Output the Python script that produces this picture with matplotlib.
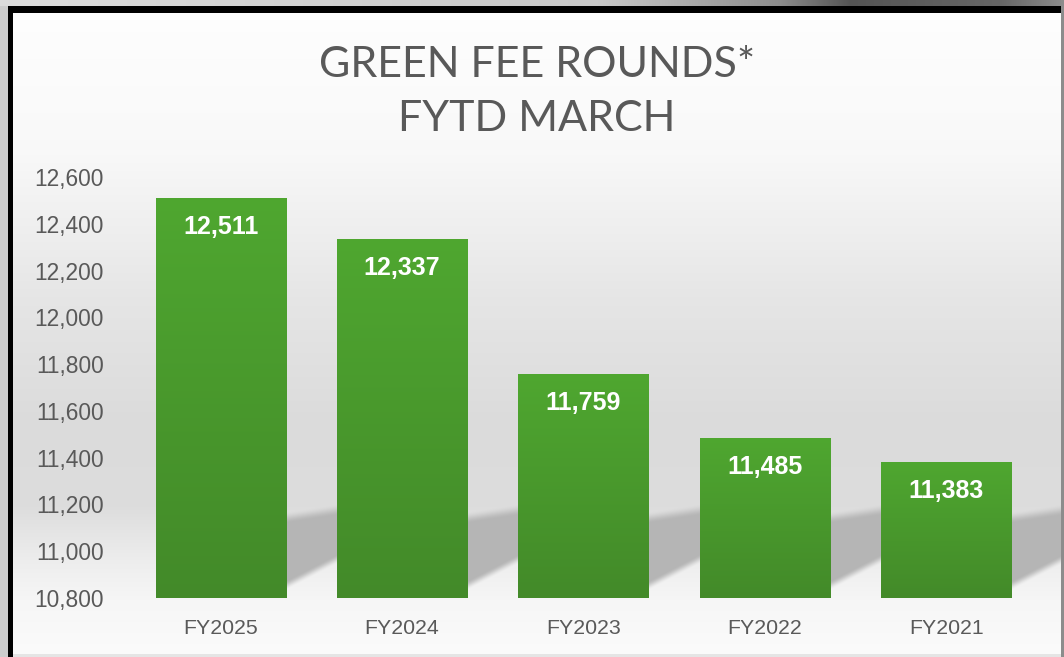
import numpy as np
import matplotlib
matplotlib.use("Agg")
import matplotlib.pyplot as plt
from matplotlib.colors import LinearSegmentedColormap

# ---- data ----
categories = ["FY2025", "FY2024", "FY2023", "FY2022", "FY2021"]
rounds = [12511, 12337, 11759, 11485, 11383]
yticks = [10800, 11000, 11200, 11400, 11600, 11800, 12000, 12200, 12400, 12600]
title_lines = ["GREEN FEE ROUNDS*", "FYTD MARCH"]

W, H = 1064, 657
fig = plt.figure(figsize=(W / 100, H / 100), dpi=100)

ax = fig.add_axes([130 / W, 1 - 598 / H, 907 / W, 421 / H])
ax.set_xlim(-0.5, len(categories) - 0.5)
ax.set_ylim(10800, 12600)
ax.patch.set_alpha(0)
for s in ax.spines.values():
    s.set_visible(False)

x = np.arange(len(categories))
bars = ax.bar(x, [v - 10800 for v in rounds], bottom=10800, width=0.717,
              color="#49992c", zorder=3)

cmap = LinearSegmentedColormap.from_list("g", ["#438a29", "#4fa730"])
grad = np.linspace(0, 1, 256).reshape(-1, 1)
for b in bars:
    bx, by, bw, bh = b.get_x(), b.get_y(), b.get_width(), b.get_height()
    im = ax.imshow(grad, extent=[bx, bx + bw, by, by + bh], origin="lower",
                   cmap=cmap, aspect="auto", zorder=4)
    im.set_clip_path(b)
ax.set_xlim(-0.5, len(categories) - 0.5)
ax.set_ylim(10800, 12600)

for xi, v in zip(x, rounds):
    ax.annotate(f"{v:,}", (xi, v), xytext=(0, -21), textcoords="offset points",
                ha="center", va="center", color="white", fontsize=18,
                fontweight="bold", family="Liberation Sans", zorder=6)

ax.set_yticks(yticks)
ax.set_yticklabels([f"{t:,}" for t in yticks], family="Liberation Sans",
                   fontsize=16.4, color="#595959")
ax.set_xticks(x)
ax.set_xticklabels(categories, family="Liberation Sans", fontsize=15.3,
                   color="#595959")
ax.tick_params(axis="y", length=0, pad=19)
ax.tick_params(axis="x", length=0, pad=15)

fig.text(537 / W, 1 - 92 / H, "\n".join(title_lines), ha="center", va="center",
         fontsize=31, color="#595959", linespacing=1.5,
         family=["Lato", "DejaVu Sans"])

# ---- background image (panel gradient, shadows, frame) ----
fig.canvas.draw()
yy = np.arange(H, dtype=float)
xx = np.arange(W, dtype=float)
prof = np.interp(yy, [12, 150, 300, 420, 505, 560, 600, 657],
                 [0.995, 0.975, 0.90, 0.86, 0.865, 0.93, 0.965, 0.985])
bg = np.repeat(prof[:, None], W, axis=1)

# soft cast shadows to the right of each bar
base_px = H - ax.transData.transform((0, 10800))[1]
X, Y = np.meshgrid(xx, yy)
def sstep(t):
    t = np.clip(t, 0, 1)
    return t * t * (3 - 2 * t)
shade = np.zeros_like(bg)
for b in bars:
    xr = ax.transData.transform((b.get_x() + b.get_width(), 0))[0]
    gap = 52.0
    u = (X - xr) / gap
    inside_x = (u >= -0.05) & (u <= 1.0)
    top = base_px - 87 + u * (-8)
    bot = base_px - 8 - u * 27
    m = sstep((Y - top) / 12.0) * sstep((bot - Y) / 10.0)
    m *= inside_x
    shade = np.maximum(shade, m)
bg = bg * (1 - shade) + 0.71 * shade

img = np.dstack([bg, bg, bg])
# outer frame
img[:, :8] = 0.80
img[:6, :] = np.interp(xx, [0, 600, 780, 850, 1000, 1064],
                       [0.86, 0.78, 0.55, 0.33, 0.40, 0.55])[None, :, None]
img[6:13, 8:] = 0.0
img[6:, 8:13] = 0.0
img[:, 1061:] = 0.55
img[654:, 13:1061] = 0.90

bgax = fig.add_axes([0, 0, 1, 1], zorder=-5)
bgax.imshow(img, aspect="auto", extent=[0, W, H, 0], interpolation="bilinear")
bgax.axis("off")

fig.savefig("out.png", dpi=100)
